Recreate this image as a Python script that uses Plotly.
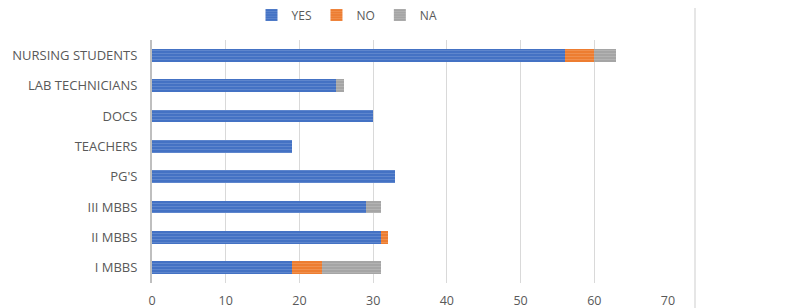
import plotly.graph_objects as go

categories = ["I MBBS", "II MBBS", "III MBBS", "PG'S", "TEACHERS", "DOCS", "LAB TECHNICIANS", "NURSING STUDENTS"]
yes_vals = [19, 31, 29, 33, 19, 30, 25, 56]
no_vals = [4, 1, 0, 0, 0, 0, 0, 4]
na_vals = [8, 0, 2, 0, 0, 0, 1, 3]
x_ticks = [0, 10, 20, 30, 40, 50, 60, 70]

series = [
    ("YES", yes_vals, "#4472C4", "#7E9DD8"),
    ("NO", no_vals, "#ED7D31", "#F4A771"),
    ("NA", na_vals, "#A5A5A5", "#C4C4C4"),
]

fig = go.Figure()
for name, vals, col, fg in series:
    fig.add_trace(go.Bar(
        y=categories, x=vals, name=name, orientation="h",
        marker=dict(color=col, line=dict(width=0),
                    pattern=dict(shape="-", fgcolor=fg, bgcolor=col, size=3, solidity=0.3)),
    ))

# page body adds an 8px offset; figure coords = screen coords - 8
W, H = 792, 300
OFF = 8
pl, pr, pt, pb = 152 - OFF, 668 - OFF, 40 - OFF, 283 - OFF
fig.update_layout(
    barmode="stack",
    bargap=0.58,
    width=W, height=H,
    margin=dict(l=pl, r=W - pr, t=pt, b=H - pb, autoexpand=False),
    paper_bgcolor="white", plot_bgcolor="white",
    font=dict(family="Open Sans", size=12, color="#595959"),
    legend=dict(orientation="h", xref="container", yref="container",
                x=(347 - OFF) / W, xanchor="center", y=1 - (15 - OFF) / H, yanchor="middle",
                font=dict(size=12, color="#595959"), traceorder="normal",
                itemwidth=30, itemsizing="constant"),
    xaxis=dict(range=[0, 70], tickvals=x_ticks, showgrid=True, gridcolor="#D9D9D9",
               gridwidth=1, zeroline=False, showline=False, ticks="", automargin=False,
               ticklabelstandoff=8,
               tickfont=dict(size=12.5, color="#595959")),
    yaxis=dict(showgrid=False, showline=True, linecolor="#BFBFBF", linewidth=2,
               ticks="", ticklabelstandoff=10, automargin=False,
               tickfont=dict(size=13, color="#595959")),
)

# right edge of chart frame
pw, ph = pr - pl, pb - pt
fig.add_shape(type="line", xref="paper", yref="paper",
              x0=(695 - OFF - pl) / pw, x1=(695 - OFF - pl) / pw,
              y0=(pb - H) / ph, y1=pb / ph,
              line=dict(color="#E6E6E6", width=2))

fig.write_html("out.html")
